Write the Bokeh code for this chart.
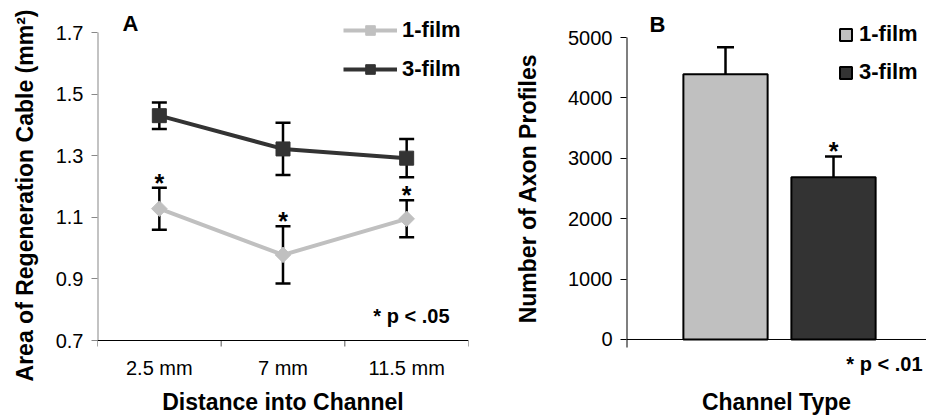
import numpy as np
from bokeh.plotting import figure
from bokeh.models import (ColumnDataSource, Range1d, FixedTicker, Whisker, Span,
                          TeeHead, Label, Legend, LegendItem, PrintfTickFormatter)
from bokeh.layouts import row
from bokeh.embed import file_html
from bokeh.resources import INLINE
from bokeh.core.properties import value

FONT = "Liberation Sans"

# ---------------- Panel A data ----------------
distances = ["2.5 mm", "7 mm", "11.5 mm"]
area_1film = [1.128, 0.978, 1.095]
area_1film_err = [0.068, 0.093, 0.060]
area_3film = [1.430, 1.322, 1.292]
area_3film_err = [0.043, 0.085, 0.062]
sig_1film = [True, True, True]
a_yticks = [0.7, 0.9, 1.1, 1.3, 1.5, 1.7]

# ---------------- Panel B data ----------------
channel_types = ["1-film", "3-film"]
axon_counts = [4392, 2688]
axon_err = [447, 342]
sig_b = [False, True]
b_yticks = [0, 1000, 2000, 3000, 4000, 5000]

LIGHT = "#c0c0c0"
DARK = "#333333"
GRAYAX = "#888888"
TITLE_SIZE = "23px"
LEGEND_SIZE = "22px"
STAR_OFFSET = -5


def label(text, x, y, size, align="center"):
    return Label(x=x, y=y, x_units="screen", y_units="screen", text=text,
                 text_font=FONT, text_font_style="bold", text_font_size=size,
                 text_align=align, text_baseline="middle", text_color="black")


def style_title(axis, text, standoff):
    axis.axis_label = text
    axis.axis_label_text_font = FONT
    axis.axis_label_text_font_style = "bold"
    axis.axis_label_text_font_size = TITLE_SIZE
    axis.axis_label_text_color = "black"
    axis.axis_label_standoff = standoff


# ================= Panel A =================
xs = [i + 0.5 for i in range(len(distances))]
pA = figure(width=478, height=420, title=None,
            x_range=Range1d(0, len(distances)), y_range=Range1d(0.5377, 1.8039),
            output_backend="svg", toolbar_location=None, frame_align=False,
            min_border_left=97, min_border_right=10,
            min_border_top=0, min_border_bottom=30)
pA.grid.visible = False
pA.outline_line_color = None

srcA1 = ColumnDataSource(dict(
    x=xs, y=area_1film,
    upper=[v + e for v, e in zip(area_1film, area_1film_err)],
    lower=[v - e for v, e in zip(area_1film, area_1film_err)]))
srcA3 = ColumnDataSource(dict(
    x=xs, y=area_3film,
    upper=[v + e for v, e in zip(area_3film, area_3film_err)],
    lower=[v - e for v, e in zip(area_3film, area_3film_err)]))

# axis lines of panel A (x axis at 0.7, y axis from 0.7 to 1.7)
pA.add_layout(Span(location=a_yticks[0], dimension="width", line_color="black", line_width=1))
pA.segment(x0=[0], y0=[a_yticks[0]], x1=[0], y1=[a_yticks[-1]],
           line_color=GRAYAX, line_width=2)
bounds = list(range(len(distances) + 1))
pA.ray(x=bounds, y=[a_yticks[0]] * len(bounds), length=6, length_units="screen",
       angle=-np.pi / 2, line_color="#555555", line_width=1)

for src in (srcA1, srcA3):
    pA.add_layout(Whisker(source=src, base="x", upper="upper", lower="lower",
                          level="underlay", line_color="black", line_width=2.5,
                          upper_head=TeeHead(size=15, line_color="black", line_width=2.5),
                          lower_head=TeeHead(size=15, line_color="black", line_width=2.5)))

l1 = pA.line("x", "y", source=srcA1, line_color=LIGHT, line_width=4)
m1 = pA.scatter("x", "y", source=srcA1, marker="square", angle=np.pi / 4, size=11,
                fill_color=LIGHT, line_color=LIGHT)
l3 = pA.line("x", "y", source=srcA3, line_color=DARK, line_width=4)
m3 = pA.scatter("x", "y", source=srcA3, marker="square", size=14,
                fill_color=DARK, line_color=DARK)

sigA = ColumnDataSource(dict(
    x=[x for x, s in zip(xs, sig_1film) if s],
    y=[u for u, s in zip(srcA1.data["upper"], sig_1film) if s],
    t=["*" for s in sig_1film if s]))
pA.text("x", "y", text="t", source=sigA, text_font=value(FONT), text_font_style="bold",
        text_font_size="25px", text_align="center", text_baseline="alphabetic",
        y_offset=STAR_OFFSET, text_color="black")

legA = Legend(items=[LegendItem(label="1-film", renderers=[l1, m1]),
                     LegendItem(label="3-film", renderers=[l3, m3])],
              location=(246, 308), orientation="vertical",
              glyph_width=54, glyph_height=24, label_height=24, spacing=13,
              padding=0, margin=0, label_standoff=5,
              border_line_color=None, background_fill_alpha=0,
              label_text_font=FONT, label_text_font_style="bold",
              label_text_font_size=LEGEND_SIZE, label_text_color="black")
pA.add_layout(legA)

ax = pA.xaxis[0]
ax.ticker = FixedTicker(ticks=xs)
ax.major_label_overrides = {x: d for x, d in zip(xs, distances)}
ax.axis_line_color = None
ax.major_tick_line_color = None
ax.minor_tick_line_color = None
ax.major_tick_out = 0
ax.major_tick_in = 0
ax.major_label_text_font = FONT
ax.major_label_text_font_size = "20px"
ax.major_label_text_color = "black"
ax.major_label_standoff = -34
style_title(ax, "Distance into Channel", 7)

ay = pA.yaxis[0]
ay.ticker = FixedTicker(ticks=a_yticks)
ay.formatter = PrintfTickFormatter(format="%.1f")
ay.axis_line_color = None
ay.major_tick_line_color = GRAYAX
ay.major_tick_out = 6
ay.major_tick_in = 0
ay.minor_tick_line_color = None
ay.major_label_text_font = FONT
ay.major_label_text_font_size = "20px"
ay.major_label_text_color = "black"
ay.major_label_standoff = 8
style_title(ay, "Area of Regeneration Cable (mm²)", 15)

pA.add_layout(label("A", 33, 367, "22px"))
pA.add_layout(label("* p < .05", 352, 75, "20px", align="right"))

# ================= Panel B =================
bx_pos = [i + 0.5 for i in range(len(channel_types))]
BX0 = -0.4167
pB = figure(width=448, height=420, title=None,
            x_range=Range1d(BX0, 2.361), y_range=Range1d(-612.6, 5612.6),
            output_backend="svg", toolbar_location=None, frame_align=False,
            min_border_left=148, min_border_right=0,
            min_border_top=0, min_border_bottom=44)
pB.grid.visible = False
pB.outline_line_color = None

srcB = ColumnDataSource(dict(
    x=bx_pos, top=axon_counts,
    upper=[v + e for v, e in zip(axon_counts, axon_err)],
    lower=[v - e for v, e in zip(axon_counts, axon_err)],
    color=[LIGHT, DARK]))

pB.add_layout(Span(location=b_yticks[0], dimension="width", line_color="black", line_width=1))
pB.segment(x0=[BX0], y0=[b_yticks[0]], x1=[BX0], y1=[b_yticks[-1]],
           line_color="black", line_width=2)
pB.ray(x=[BX0], y=[b_yticks[0]], length=8, length_units="screen",
       angle=-np.pi / 2, line_color="black", line_width=2)

bars = pB.vbar(x="x", top="top", width=0.78, source=srcB, fill_color="color",
               line_color="black", line_width=2)
pB.add_layout(Whisker(source=srcB, base="x", upper="upper", lower="lower",
                      line_color="black", line_width=2.5,
                      upper_head=TeeHead(size=17, line_color="black", line_width=2.5),
                      lower_head=TeeHead(size=17, line_color="black", line_width=2.5)))

sigB = ColumnDataSource(dict(
    x=[c for c, s in zip(bx_pos, sig_b) if s],
    y=[u for u, s in zip(srcB.data["upper"], sig_b) if s],
    t=["*" for s in sig_b if s]))
pB.text("x", "y", text="t", source=sigB, text_font=value(FONT), text_font_style="bold",
        text_font_size="25px", text_align="center", text_baseline="alphabetic",
        y_offset=STAR_OFFSET, text_color="black")

legB = Legend(items=[LegendItem(label=channel_types[0], renderers=[bars], index=0),
                     LegendItem(label=channel_types[1], renderers=[bars], index=1)],
              location=(212, 291), orientation="vertical",
              glyph_width=15, glyph_height=15, label_height=24, spacing=12,
              padding=0, margin=0, label_standoff=6,
              border_line_color=None, background_fill_alpha=0,
              label_text_font=FONT, label_text_font_style="bold",
              label_text_font_size=LEGEND_SIZE, label_text_color="black")
pB.add_layout(legB)

bx = pB.xaxis[0]
bx.ticker = FixedTicker(ticks=[])
bx.axis_line_color = None
bx.major_tick_line_color = None
bx.minor_tick_line_color = None
bx.major_tick_out = 0
bx.major_label_standoff = 0
style_title(bx, "Channel Type", 12)

by = pB.yaxis[0]
by.ticker = FixedTicker(ticks=b_yticks)
by.axis_line_color = None
by.major_tick_line_color = "black"
by.major_tick_out = 6
by.major_tick_in = 0
by.minor_tick_line_color = None
by.major_label_text_font = FONT
by.major_label_text_font_size = "20px"
by.major_label_text_color = "black"
by.major_label_standoff = 8
style_title(by, "Number of Axon Profiles", 24)

pB.add_layout(label("B", 31, 352, "22px"))
pB.add_layout(label("* p < .01", 296, 13, "20px", align="right"))

layout = row(pA, pB)
open("out.html", "w").write(file_html(layout, INLINE))
